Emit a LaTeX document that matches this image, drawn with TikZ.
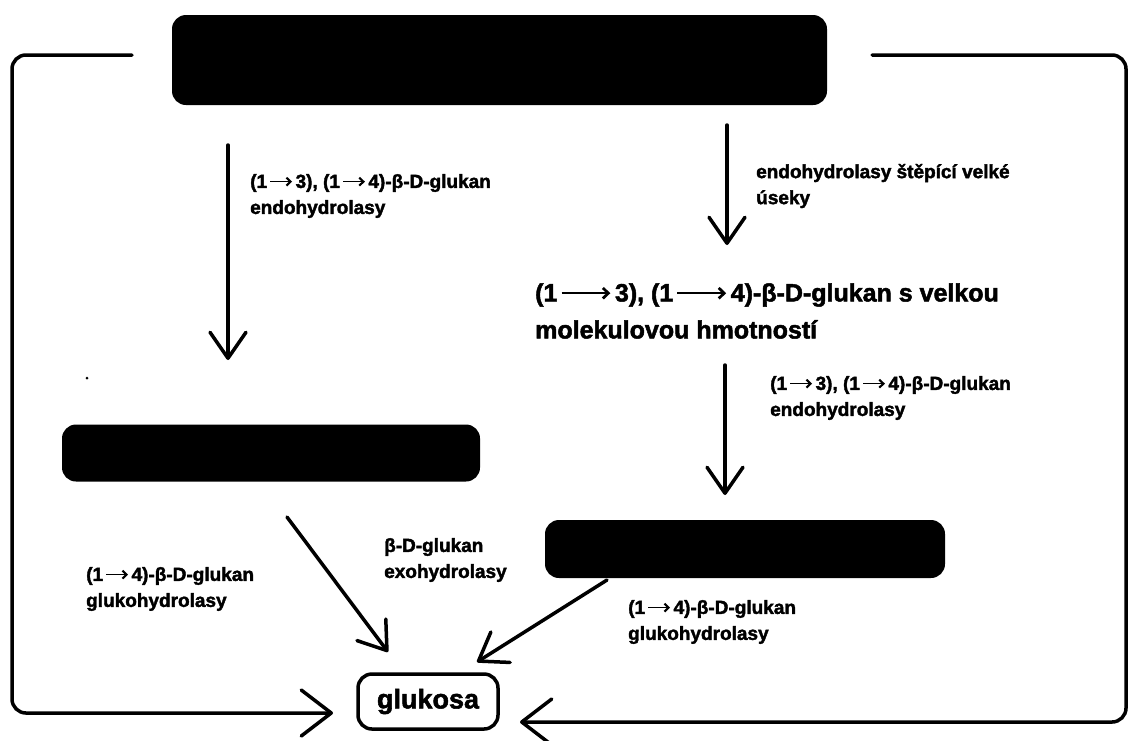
\documentclass[tikz,border=0pt]{standalone}
\usepackage{fontspec}
\setmainfont{Liberation Sans}
\newfontfamily\lab{Liberation Sans}[BoldFeatures={FakeBold=2}]
\usetikzlibrary{arrows.meta}
\newcommand\rarr[1][1.5em]{\hbox to #1{\hss\tikz[baseline=0pt]\draw[line width=0.08em,-{Straight Barb[length=0.22em,width=0.42em,line width=0.11em]}] (0,0.33em) -- (#1-0.35em,0.33em);\hss}}
\begin{document}
\begin{tikzpicture}[x=1pt,y=-1pt,
  blk/.style={fill=black,rounded corners=14pt,inner sep=0pt},
  lbl/.style={anchor=west,inner sep=0pt,align=left,font=\lab\bfseries\fontsize{19}{26}\selectfont},
  big/.style={anchor=west,inner sep=0pt,align=left,font=\lab\bfseries\fontsize{25}{37}\selectfont},
  arr/.style={line width=3.5pt,line cap=round,-{Straight Barb[length=26pt,width=36pt,round]}},
  brk/.style={line width=3.5pt,line cap=round,rounded corners=14pt,-{Straight Barb[length=30pt,width=46pt,round]}}]
\useasboundingbox (0,0) rectangle (1131,740);
% black boxes
\node[blk,minimum width=655pt,minimum height=90pt] (top) at (499.5,60) {};
\node[blk,minimum width=418pt,minimum height=57pt] (lbox) at (271,453) {};
\node[blk,minimum width=400pt,minimum height=58pt] (rbox) at (745,549) {};
% glukosa
\node[draw,line width=3.5pt,rounded corners=14pt,minimum width=140pt,minimum height=55pt,inner sep=0pt,
  font=\lab\bfseries\fontsize{27}{30}\selectfont] (glc) at (428,701.5) {glukosa};
% middle text
\node[big] (mid) at (535,311) {(1\rarr[2.3em]3), (1\rarr[2.3em]4)-β-D-glukan s velkou\\molekulovou hmotností};
% labels
\node[lbl] (l1) at (250,196) {(1\rarr3), (1\rarr4)-β-D-glukan\\endohydrolasy};
\node[lbl] (l2) at (756,186) {endohydrolasy štěpící velké\\úseky};
\node[lbl] (l3) at (770,398) {(1\rarr3), (1\rarr4)-β-D-glukan\\endohydrolasy};
\node[lbl] (l4) at (384,560) {β-D-glukan\\exohydrolasy};
\node[lbl] (l5) at (86,589) {(1\rarr4)-β-D-glukan\\glukohydrolasy};
\node[lbl] (l6) at (628,622) {(1\rarr4)-β-D-glukan\\glukohydrolasy};
% arrow end points
\coordinate (a1s) at (228,145); \coordinate (a1e) at (228,360);
\coordinate (a2s) at (727,125); \coordinate (a2e) at (727,245);
\coordinate (a3s) at (725,365); \coordinate (a3e) at (725,495);
\coordinate (a4s) at (287,517); \coordinate (a4e) at (388,652);
\coordinate (a5s) at (607,580); \coordinate (a5e) at (477,662);
\coordinate (b1s) at (132,55); \coordinate (b1a) at (12,55); \coordinate (b1b) at (12,713); \coordinate (b1e) at (333,713);
\coordinate (b2s) at (872,55); \coordinate (b2a) at (1126,55); \coordinate (b2b) at (1126,722); \coordinate (b2e) at (520,722);
\draw[arr] (a1s) -- (a1e);
\draw[arr] (a2s) -- (a2e);
\draw[arr] (a3s) -- (a3e);
\draw[arr] (a4s) -- (a4e);
\draw[arr] (a5s) -- (a5e);
\draw[brk] (b1s) -- (b1a) -- (b1b) -- (b1e);
\draw[brk] (b2s) -- (b2a) -- (b2b) -- (b2e);
\fill (87,378) circle (1.5pt);
\end{tikzpicture}
\end{document}
